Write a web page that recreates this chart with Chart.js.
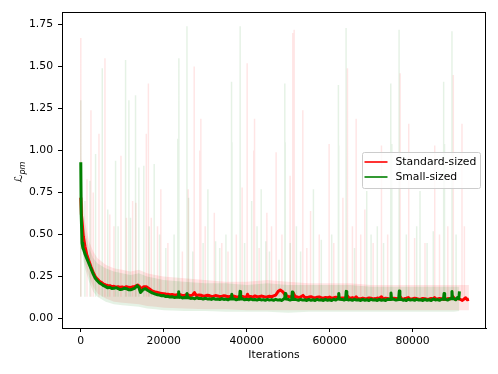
<!DOCTYPE html>
<html>
<head>
<meta charset="utf-8">
<script src="https://cdn.jsdelivr.net/npm/chart.js@4/dist/chart.umd.min.js"></script>
<style>
  html, body { margin: 0; padding: 0; background: #fff; }
  #chart { display: block; }
</style>
</head>
<body>
<canvas id="chart" width="498" height="374"></canvas>
<script>
// ---- data ----
const X_TICKS = [0, 20000, 40000, 60000, 80000];
const Y_TICKS = [0, 0.25, 0.5, 0.75, 1.0, 1.25, 1.5, 1.75];
const SERIES_NAMES = ["Standard-sized", "Small-sized"];

// envelope of the raw (unsmoothed) curves: [iteration, low, high]
const RED_BAND = [
  [0, 0.50, 1.00], [500, 0.40, 0.70], [1000, 0.33, 0.58], [2000, 0.25, 0.46], [3000, 0.19, 0.40],
  [4000, 0.15, 0.36], [6000, 0.12, 0.32], [8000, 0.10, 0.30], [10000, 0.095, 0.29], [12000, 0.09, 0.28],
  [14000, 0.085, 0.29], [16000, 0.075, 0.27], [18000, 0.07, 0.26], [20000, 0.065, 0.25], [25000, 0.06, 0.24],
  [30000, 0.055, 0.23], [35000, 0.055, 0.22], [40000, 0.05, 0.22], [45000, 0.05, 0.23], [50000, 0.05, 0.22],
  [55000, 0.05, 0.21], [60000, 0.05, 0.21], [65000, 0.05, 0.21], [70000, 0.05, 0.20], [75000, 0.05, 0.20],
  [80000, 0.05, 0.20], [85000, 0.05, 0.20], [90000, 0.05, 0.20], [93600, 0.05, 0.20]
];
const GREEN_BAND = [
  [0, 0.55, 0.95], [500, 0.36, 0.62], [1000, 0.30, 0.52], [2000, 0.22, 0.42], [3000, 0.16, 0.36],
  [4000, 0.13, 0.33], [6000, 0.10, 0.30], [8000, 0.085, 0.28], [10000, 0.08, 0.27], [12000, 0.075, 0.26],
  [14000, 0.07, 0.27], [16000, 0.06, 0.25], [18000, 0.055, 0.24], [20000, 0.05, 0.23], [25000, 0.045, 0.22],
  [30000, 0.045, 0.21], [35000, 0.04, 0.21], [40000, 0.04, 0.20], [45000, 0.04, 0.21], [50000, 0.035, 0.20],
  [55000, 0.04, 0.20], [60000, 0.04, 0.20], [65000, 0.04, 0.20], [70000, 0.04, 0.19], [75000, 0.04, 0.19],
  [80000, 0.04, 0.19], [85000, 0.04, 0.19], [90000, 0.04, 0.19], [91300, 0.045, 0.19]
];

// spikes of the raw curves: [iteration, peak]
const RED_SPIKES = [
  [0, 1.67], [1500, 0.83], [2450, 1.24], [3000, 0.75], [4380, 1.10], [5830, 1.55], [7000, 0.62],
  [8000, 0.55], [9690, 0.97], [11000, 0.60], [12500, 0.70], [13300, 0.69], [15800, 1.10], [16300, 1.40],
  [17000, 0.60], [18500, 0.55], [19300, 0.77], [21000, 0.45], [24500, 0.40], [25900, 0.77], [27350, 1.50],
  [28700, 1.00], [28950, 1.19], [30000, 0.55], [32200, 0.63], [34000, 0.45], [35500, 0.40], [37500, 0.50],
  [38900, 0.78], [40120, 1.52], [41700, 1.00], [41900, 1.19], [43000, 0.42], [44870, 0.63], [46000, 0.55],
  [47100, 0.99], [48500, 0.50], [50480, 0.85], [51130, 1.70], [51450, 1.72], [53540, 1.24], [54500, 0.42],
  [55400, 0.64], [57500, 0.50], [59880, 1.04], [61000, 0.45], [63200, 0.72], [64300, 1.49], [65500, 0.55],
  [66400, 1.19], [67500, 0.50], [68500, 0.65], [70500, 0.45], [72500, 1.03], [74000, 0.50], [77000, 1.46],
  [79080, 1.16], [80500, 0.48], [83000, 0.45], [85350, 1.03], [86500, 0.50], [88500, 0.55], [89830, 1.45],
  [91920, 1.16], [92500, 0.55]
];
const GREEN_SPIKES = [
  [0, 1.30], [1000, 0.70], [2200, 0.82], [3570, 0.98], [5180, 1.49], [6500, 0.65], [8390, 0.94],
  [9000, 0.55], [10800, 1.54], [11600, 1.30], [12000, 0.60], [13200, 1.33], [14000, 0.90], [15200, 0.91],
  [16500, 0.55], [17700, 0.92], [19000, 0.50], [20500, 0.42], [22500, 0.50], [23400, 1.07], [23650, 1.55],
  [25600, 1.74], [26000, 0.72], [27000, 0.40], [29500, 0.45], [30650, 0.77], [32500, 0.46], [33500, 0.42],
  [35000, 0.50], [36350, 1.41], [36450, 1.05], [38430, 1.74], [39500, 0.45], [41200, 0.70], [42500, 0.55],
  [43500, 0.77], [44600, 0.46], [45500, 0.40], [47800, 0.35], [49200, 1.40], [49300, 1.05], [50500, 0.45],
  [52000, 0.55], [53000, 0.40], [56100, 0.77], [58000, 0.47], [60500, 0.50], [62120, 1.39], [62200, 1.03],
  [63970, 1.73], [66000, 0.42], [68950, 0.76], [70000, 0.50], [71500, 0.55], [73000, 0.45], [74750, 1.40],
  [75000, 1.04], [76750, 1.72], [78500, 0.50], [81000, 0.55], [81800, 0.76], [83500, 0.45], [85000, 0.52],
  [87500, 1.41], [87700, 1.04], [89500, 1.71], [90500, 0.50]
];

// smoothed curves: [iteration, value]
const RED_SMOOTH = [
  [0, 0.72], [150, 0.62], [300, 0.58], [600, 0.49], [1000, 0.43], [1500, 0.375], [2000, 0.34], [2500, 0.305],
  [3000, 0.275], [3500, 0.25], [4000, 0.235], [4500, 0.222], [5000, 0.215], [5500, 0.205], [6000, 0.20],
  [6500, 0.197], [7000, 0.196], [7500, 0.19], [8000, 0.192], [8500, 0.187], [9000, 0.19], [9500, 0.186],
  [10000, 0.188], [10500, 0.184], [11000, 0.19], [11500, 0.186], [12000, 0.185], [12500, 0.189], [13000, 0.19],
  [13700, 0.20], [14200, 0.19], [14600, 0.175], [15200, 0.19], [15800, 0.19], [16500, 0.178], [17200, 0.165],
  [18000, 0.158], [18500, 0.155], [19000, 0.152], [19500, 0.15], [20000, 0.148], [20500, 0.146], [21000, 0.145],
  [21500, 0.142], [22000, 0.143], [22500, 0.14], [23000, 0.14], [23500, 0.143], [24000, 0.142], [24500, 0.137],
  [25000, 0.138], [25500, 0.142], [26000, 0.14], [26500, 0.136], [27000, 0.142], [27400, 0.155], [27800, 0.137],
  [28500, 0.14], [29000, 0.139], [29500, 0.134], [30000, 0.135], [30500, 0.139], [31000, 0.137], [31500, 0.132],
  [32000, 0.133], [32500, 0.137], [33000, 0.135], [33500, 0.131], [34000, 0.132], [34500, 0.136], [35000, 0.134],
  [35500, 0.13], [36000, 0.131], [36500, 0.135], [37000, 0.133], [37500, 0.129], [38000, 0.13], [38500, 0.134],
  [39000, 0.132], [39500, 0.128], [40000, 0.13], [40200, 0.145], [40500, 0.131], [41000, 0.132], [41500, 0.128],
  [42000, 0.135], [42500, 0.13], [43000, 0.13], [43500, 0.134], [44000, 0.132], [44500, 0.128], [45000, 0.13],
  [45500, 0.133], [46000, 0.13], [46500, 0.135], [47000, 0.14], [47600, 0.162], [48100, 0.17], [48700, 0.16],
  [49300, 0.14], [50000, 0.132], [50800, 0.13], [51300, 0.15], [51700, 0.13], [52000, 0.13], [52500, 0.126],
  [53000, 0.128], [53600, 0.138], [54000, 0.127], [54500, 0.124], [55000, 0.128], [55500, 0.13], [56000, 0.126],
  [56500, 0.123], [57000, 0.127], [57500, 0.129], [58000, 0.125], [58500, 0.122], [59000, 0.126], [59500, 0.124],
  [60000, 0.128], [60500, 0.122], [61000, 0.124], [61500, 0.127], [62000, 0.125], [62500, 0.121], [63000, 0.123],
  [63800, 0.124], [64300, 0.135], [64700, 0.121], [65000, 0.122], [65500, 0.125], [66000, 0.12], [66400, 0.13],
  [66800, 0.12], [67500, 0.118], [68000, 0.122], [68500, 0.118], [69000, 0.12], [69500, 0.123], [70000, 0.121],
  [70500, 0.117], [71000, 0.119], [71500, 0.122], [72000, 0.12], [72500, 0.13], [72900, 0.117], [73500, 0.121],
  [74000, 0.12], [74500, 0.116], [75000, 0.118], [75500, 0.121], [76000, 0.12], [76500, 0.117], [77000, 0.13],
  [77400, 0.117], [78000, 0.118], [78500, 0.121], [79000, 0.125], [79400, 0.116], [80000, 0.118], [80500, 0.121],
  [81000, 0.119], [81500, 0.115], [82000, 0.117], [82500, 0.12], [83000, 0.118], [83500, 0.115], [84000, 0.117],
  [84500, 0.12], [85000, 0.117], [85300, 0.125], [85700, 0.116], [86000, 0.117], [86500, 0.12], [87000, 0.118],
  [87500, 0.114], [88000, 0.116], [88500, 0.119], [89000, 0.117], [89800, 0.13], [90200, 0.116], [90500, 0.117],
  [91000, 0.12], [91500, 0.115], [92000, 0.108], [92500, 0.118], [92800, 0.124], [93200, 0.112], [93600, 0.115]
];
const GREEN_SMOOTH = [
  [0, 0.93], [100, 0.62], [300, 0.45], [500, 0.42], [700, 0.41], [1000, 0.385], [1500, 0.355], [2000, 0.325],
  [2500, 0.295], [3000, 0.265], [3500, 0.24], [4000, 0.225], [4500, 0.212], [5000, 0.205], [5500, 0.196],
  [6000, 0.19], [6500, 0.183], [7000, 0.186], [7500, 0.179], [8000, 0.18], [8500, 0.184], [9000, 0.179],
  [9500, 0.173], [10000, 0.175], [10500, 0.18], [11000, 0.178], [11500, 0.172], [12000, 0.171], [12500, 0.176],
  [13000, 0.18], [13600, 0.196], [14000, 0.185], [14400, 0.155], [15000, 0.172], [15600, 0.178], [16000, 0.17],
  [16500, 0.163], [17200, 0.153], [18000, 0.146], [18500, 0.142], [19000, 0.14], [19500, 0.136], [20000, 0.137],
  [20500, 0.131], [21000, 0.133], [21500, 0.128], [22000, 0.13], [22500, 0.126], [23000, 0.127], [23450, 0.127],
  [23600, 0.16], [23750, 0.126], [24000, 0.128], [24500, 0.123], [25000, 0.125], [25450, 0.124], [25600, 0.15],
  [25750, 0.124], [26000, 0.124], [26500, 0.12], [27000, 0.122], [27500, 0.118], [28000, 0.124], [28500, 0.119],
  [29000, 0.12], [29500, 0.116], [30000, 0.121], [30500, 0.117], [31000, 0.118], [31500, 0.114], [32000, 0.12],
  [32500, 0.115], [33000, 0.117], [33500, 0.113], [34000, 0.119], [34500, 0.114], [35000, 0.116], [35500, 0.112],
  [36000, 0.118], [36250, 0.117], [36400, 0.145], [36550, 0.116], [37000, 0.117], [37500, 0.112], [38000, 0.116],
  [38250, 0.115], [38400, 0.162], [38550, 0.116], [39000, 0.118], [39500, 0.112], [40000, 0.115], [40500, 0.111],
  [41000, 0.117], [41500, 0.112], [42000, 0.114], [42500, 0.11], [43000, 0.116], [43500, 0.111], [44000, 0.113],
  [44500, 0.109], [45000, 0.115], [45500, 0.11], [46000, 0.113], [46500, 0.109], [47000, 0.115], [47500, 0.11],
  [48000, 0.112], [48500, 0.108], [49000, 0.118], [49150, 0.118], [49300, 0.15], [49450, 0.117], [50000, 0.115],
  [50500, 0.11], [50850, 0.114], [51000, 0.158], [51150, 0.114], [51500, 0.115], [52000, 0.113], [52500, 0.109],
  [53000, 0.115], [53500, 0.11], [54000, 0.112], [54500, 0.108], [55000, 0.114], [55500, 0.109], [56000, 0.112],
  [56500, 0.108], [57000, 0.115], [57500, 0.11], [58000, 0.112], [58500, 0.108], [59000, 0.114], [59500, 0.109],
  [60000, 0.112], [60500, 0.108], [61000, 0.115], [61500, 0.11], [62000, 0.118], [62050, 0.118], [62200, 0.15],
  [62350, 0.115], [63000, 0.114], [63500, 0.11], [63850, 0.114], [64000, 0.162], [64150, 0.115], [64500, 0.111],
  [65000, 0.113], [65500, 0.109], [66000, 0.115], [66500, 0.11], [67000, 0.112], [67500, 0.108], [68000, 0.114],
  [68500, 0.109], [69000, 0.112], [69500, 0.108], [70000, 0.115], [70500, 0.11], [71000, 0.112], [71500, 0.108],
  [72000, 0.114], [72500, 0.109], [73000, 0.112], [73500, 0.108], [74000, 0.115], [74650, 0.114], [74800, 0.152],
  [74950, 0.115], [75500, 0.115], [76000, 0.11], [76650, 0.114], [76800, 0.164], [76950, 0.114], [77300, 0.114],
  [77800, 0.109], [78000, 0.112], [78500, 0.108], [79000, 0.115], [79500, 0.11], [80000, 0.113], [80500, 0.109],
  [81000, 0.115], [81500, 0.11], [82000, 0.112], [82500, 0.108], [83000, 0.114], [83500, 0.109], [84000, 0.112],
  [84500, 0.108], [85000, 0.116], [85500, 0.111], [86000, 0.113], [86500, 0.109], [87000, 0.115], [87450, 0.115],
  [87600, 0.15], [87750, 0.115], [88000, 0.115], [88500, 0.11], [89000, 0.118], [89350, 0.118], [89500, 0.162],
  [89650, 0.118], [90000, 0.118], [90400, 0.112], [90800, 0.125], [91150, 0.118], [91300, 0.162]
];

const SPIKE_BASE = 0.13;
const FONT = "'DejaVu Sans', sans-serif";

const pts = (arr, k = 1) => arr.map((p) => ({ x: p[0], y: p[k] }));

function spikeLines(spikes) {
  const out = [];
  spikes.forEach(([x, peak]) => {
    out.push({ x, y: SPIKE_BASE }, { x, y: peak }, { x, y: null });
  });
  return out;
}

function lineSet(data, color, width, order, extra) {
  return Object.assign({
    data, borderColor: color, borderWidth: width, pointRadius: 0,
    tension: 0, fill: false, spanGaps: false, order,
    borderJoinStyle: "round", borderCapStyle: "butt",
  }, extra || {});
}

const RED_FAINT = "rgba(255,0,0,0.1)";
const GREEN_FAINT = "rgba(0,128,0,0.1)";

const frameAndLabels = {
  id: "frameAndLabels",
  afterDraw(chart) {
    const { ctx, chartArea: a } = chart;
    ctx.save();
    // spines
    ctx.strokeStyle = "#000";
    ctx.lineWidth = 1;
    ctx.strokeRect(Math.round(a.left) + 0.5, Math.round(a.top) + 0.5,
      Math.round(a.right - a.left) - 1, Math.round(a.bottom - a.top));

    // legend
    const lx = 362, ly = 152, lw = 118, lh = 36;
    ctx.fillStyle = "rgba(255,255,255,0.8)";
    ctx.strokeStyle = "#cccccc";
    ctx.beginPath();
    ctx.roundRect(lx + 0.5, ly + 0.5, lw, lh, 2);
    ctx.fill();
    ctx.stroke();
    const rows = [["#ff0000", 162], ["#008000", 177]];
    rows.forEach(([c, y], i) => {
      ctx.strokeStyle = c;
      ctx.lineWidth = 1.6;
      ctx.beginPath();
      ctx.moveTo(364.5, y);
      ctx.lineTo(387.5, y);
      ctx.stroke();
      ctx.fillStyle = "#000";
      ctx.font = `10.8px ${FONT}`;
      ctx.textBaseline = "middle";
      ctx.textAlign = "left";
      ctx.fillText(SERIES_NAMES[i], 395.5, y);
    });

    // x title
    ctx.fillStyle = "#000";
    ctx.font = `10.8px ${FONT}`;
    ctx.textAlign = "center";
    ctx.textBaseline = "middle";
    ctx.fillText("Iterations", (a.left + a.right) / 2, 355);

    // y title: script L with subscript pm
    ctx.translate(22, (a.top + a.bottom) / 2 + 2);
    ctx.rotate(-Math.PI / 2);
    ctx.textBaseline = "alphabetic";
    ctx.textAlign = "left";
    ctx.font = `11px ${FONT}`;
    const wL = ctx.measureText("ℒ").width;
    ctx.font = `italic 8px ${FONT}`;
    const wS = ctx.measureText("pm").width;
    const x0 = -(wL + wS) / 2;
    ctx.font = `11px ${FONT}`;
    ctx.fillText("ℒ", x0, 0);
    ctx.font = `italic 8px ${FONT}`;
    ctx.fillText("pm", x0 + wL, 2.5);
    ctx.restore();
  },
};

const ctx = document.getElementById("chart");
new Chart(ctx, {
  type: "line",
  data: {
    datasets: [
      lineSet(pts(RED_BAND, 1), "transparent", 0, 7),
      lineSet(pts(RED_BAND, 2), "transparent", 0, 6, { fill: "-1", backgroundColor: RED_FAINT }),
      lineSet(pts(GREEN_BAND, 1), "transparent", 0, 5),
      lineSet(pts(GREEN_BAND, 2), "transparent", 0, 4, { fill: "-1", backgroundColor: GREEN_FAINT }),
      lineSet(spikeLines(RED_SPIKES), RED_FAINT, 1.5, 3),
      lineSet(spikeLines(GREEN_SPIKES), GREEN_FAINT, 1.5, 2),
      lineSet(pts(RED_SMOOTH), "#ff0000", 3, 1),
      lineSet(pts(GREEN_SMOOTH), "#008000", 3, 0),
    ],
  },
  options: {
    responsive: false,
    animation: false,
    events: [],
    layout: { padding: { top: 12, right: 12, left: 0, bottom: 0 } },
    plugins: { legend: { display: false }, tooltip: { enabled: false } },
    scales: {
      x: {
        type: "linear", min: -4530, max: 97710,
        afterBuildTicks: (s) => { s.ticks = X_TICKS.map((v) => ({ value: v })); },
        afterFit: (s) => { s.height = 46; },
        ticks: {
          color: "#000", font: { family: FONT, size: 10.8 }, padding: 3,
          maxRotation: 0, autoSkip: false, callback: (v) => String(v),
        },
        grid: { drawOnChartArea: false, tickLength: 4, color: "#000", tickWidth: 1 },
        border: { color: "#000", width: 1 },
      },
      y: {
        type: "linear", min: -0.056, max: 1.825,
        afterBuildTicks: (s) => { s.ticks = Y_TICKS.map((v) => ({ value: v })); },
        afterFit: (s) => { s.width = 62; },
        ticks: {
          color: "#000", font: { family: FONT, size: 10.8 }, padding: 5,
          autoSkip: false, callback: (v) => v.toFixed(2),
        },
        grid: { drawOnChartArea: false, tickLength: 4, color: "#000", tickWidth: 1 },
        border: { color: "#000", width: 1 },
      },
    },
  },
  plugins: [frameAndLabels],
});
</script>
</body>
</html>
